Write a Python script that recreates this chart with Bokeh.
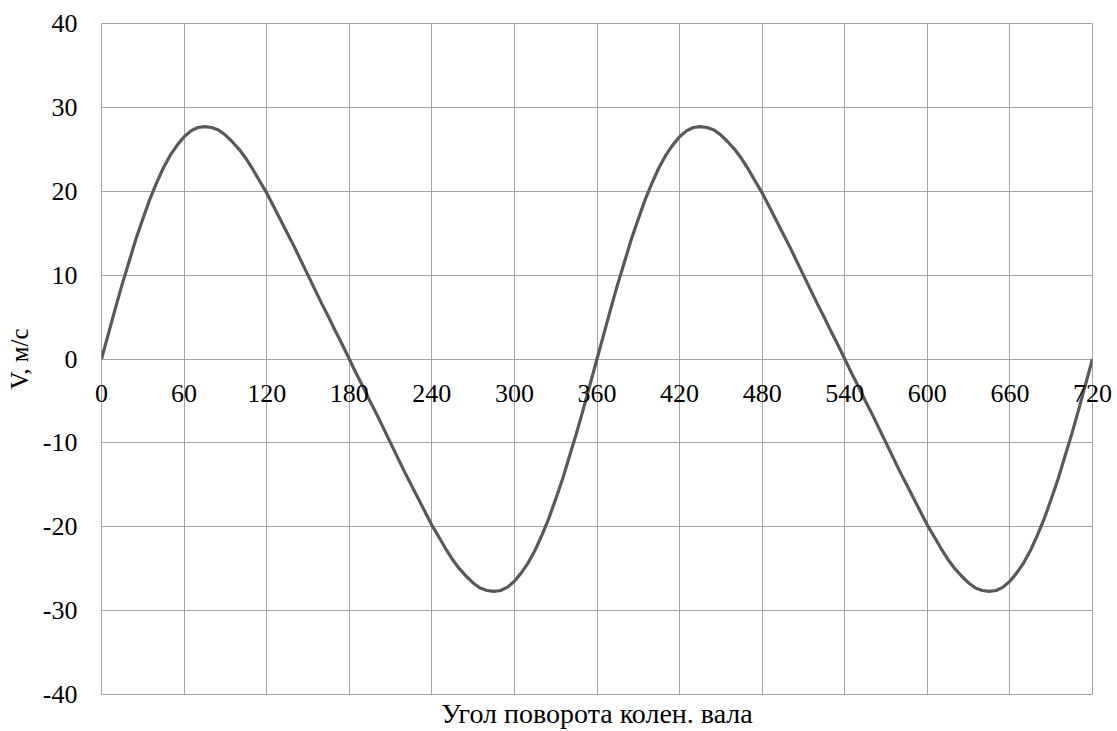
from bokeh.plotting import figure
from bokeh.models import (LinearAxis, FixedTicker, Title, Range1d,
                          PrintfTickFormatter)
from bokeh.embed import file_html
from bokeh.resources import INLINE

angle = list(range(0, 721, 5))
velocity = [
    0.0, 3.0, 6.0, 8.9, 11.6, 14.3, 16.7, 19.0, 21.0, 22.8, 24.3, 25.5,
    26.5, 27.2, 27.6, 27.7, 27.6, 27.3, 26.7, 25.9, 25.0, 23.9, 22.6, 21.2,
    19.8, 18.2, 16.6, 15.0, 13.4, 11.7, 10.0, 8.3, 6.6, 5.0, 3.3, 1.7,
    0.0, -1.7, -3.3, -5.0, -6.6, -8.3, -10.0, -11.7, -13.4, -15.0, -16.6, -18.2,
    -19.8, -21.2, -22.6, -23.9, -25.0, -25.9, -26.7, -27.3, -27.6, -27.7, -27.6, -27.2,
    -26.5, -25.5, -24.3, -22.8, -21.0, -19.0, -16.7, -14.3, -11.6, -8.9, -6.0, -3.0,
    0.0, 3.0, 6.0, 8.9, 11.6, 14.3, 16.7, 19.0, 21.0, 22.8, 24.3, 25.5,
    26.5, 27.2, 27.6, 27.7, 27.6, 27.3, 26.7, 25.9, 25.0, 23.9, 22.6, 21.2,
    19.8, 18.2, 16.6, 15.0, 13.4, 11.7, 10.0, 8.3, 6.6, 5.0, 3.3, 1.7,
    0.0, -1.7, -3.3, -5.0, -6.6, -8.3, -10.0, -11.7, -13.4, -15.0, -16.6, -18.2,
    -19.8, -21.2, -22.6, -23.9, -25.0, -25.9, -26.7, -27.3, -27.6, -27.7, -27.6, -27.2,
    -26.5, -25.5, -24.3, -22.8, -21.0, -19.0, -16.7, -14.3, -11.6, -8.9, -6.0, -3.0,
    0.0,
]
x_ticks = [0, 60, 120, 180, 240, 300, 360, 420, 480, 540, 600, 660, 720]
y_ticks = [-40, -30, -20, -10, 0, 10, 20, 30, 40]
x_title = "Угол поворота колен. вала"
y_title = "V, м/с"

FONT = "Liberation Serif"
GRID = "#a3a3a3"

p = figure(width=1117, height=731, output_backend="svg", toolbar_location=None,
           x_axis_location=None, y_axis_location=None,
           x_range=Range1d(0, 720), y_range=Range1d(-40, 40),
           min_border_left=101, min_border_right=25, min_border_top=23,
           min_border_bottom=37)
p.background_fill_color = "white"
p.border_fill_color = "white"
p.outline_line_color = GRID
p.outline_line_width = 1

yax = LinearAxis(ticker=FixedTicker(ticks=y_ticks), axis_label=y_title,
                 formatter=PrintfTickFormatter(format="%d"))
yax.axis_line_color = None
yax.major_tick_line_color = None
yax.minor_tick_line_color = None
yax.major_label_standoff = 18
yax.major_label_text_font = FONT
yax.major_label_text_font_size = "26px"
yax.major_label_text_color = "black"
yax.axis_label_text_font = FONT
yax.axis_label_text_font_size = "25px"
yax.axis_label_text_font_style = "normal"
yax.axis_label_text_color = "black"
yax.axis_label_standoff = 7
p.add_layout(yax, "left")

# x tick labels sit just under the zero line (drawn from the top axis panel,
# so the outer labels are not clipped by the frame)
xax = LinearAxis(ticker=FixedTicker(ticks=x_ticks))
xax.axis_line_color = None
xax.major_tick_line_color = None
xax.minor_tick_line_color = None
xax.major_tick_out = 0
xax.major_tick_in = 0
xax.major_label_standoff = -378
xax.major_label_text_font = FONT
xax.major_label_text_font_size = "26px"
xax.major_label_text_color = "black"
p.add_layout(xax, "above")

p.add_layout(Title(text=x_title, align="center", text_font=FONT,
                   text_font_size="28px", text_font_style="normal",
                   text_color="black", offset=0, standoff=2), "below")

p.xgrid.ticker = FixedTicker(ticks=x_ticks)
p.ygrid.ticker = FixedTicker(ticks=y_ticks)
for g in (p.xgrid, p.ygrid):
    g.grid_line_color = GRID
    g.grid_line_width = 1

p.line(angle, velocity, line_color="#595959", line_width=3.2)

open("out.html", "w").write(file_html(p, INLINE))
